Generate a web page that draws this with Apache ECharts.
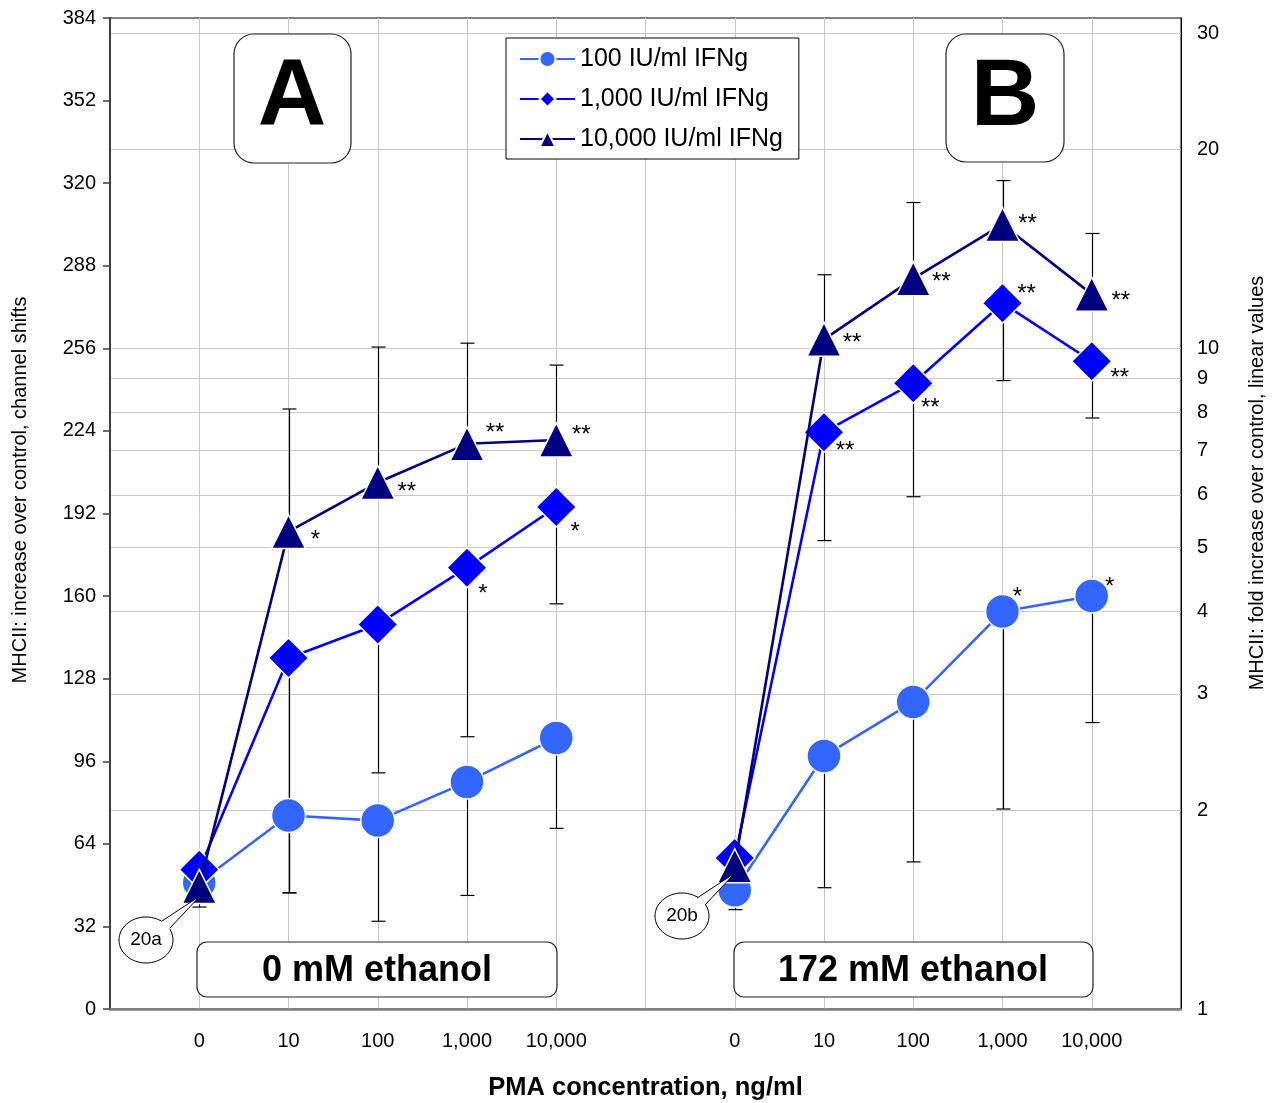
<!DOCTYPE html>
<html><head><meta charset="utf-8">
<script src="https://cdn.jsdelivr.net/npm/echarts@6/dist/echarts.min.js"></script>
<style>html,body{margin:0;padding:0;background:#fff}#c{width:1273px;height:1103px}</style>
</head><body><div id="c"></div>
<script>
// ---------- data ----------
const doseLabels = ['0', '10', '100', '1,000', '10,000'];
const xPanelA = [1, 2, 3, 4, 5];
const xPanelB = [7, 8, 9, 10, 11];
const seriesNames = ['100 IU/ml IFNg', '1,000 IU/ml IFNg', '10,000 IU/ml IFNg'];

const ifn100A = [49, 75, 73, 88, 105];
const ifn100B = [46, 98, 119, 154, 160];
const ifn1000A = [54, 136, 149, 171, 194.5];
const ifn1000B = [58.5, 223.5, 242.5, 273.5, 251];
const ifn10000A = [47.5, 185, 204, 219, 220.5];
const ifn10000B = [55.5, 259.5, 283, 304, 277];

// error bar end values (one-sided)
const err100A = [39.5, 45, 34, 44, 70];
const err100B = [38.5, 47, 57, 77.5, 111];
const err1000A = [null, 45, 91.5, 105.5, 157];
const err1000B = [null, 181.5, 198.5, 243.5, 229];
const err10000A = [null, 232.5, 256.5, 258, 249.5];
const err10000B = [null, 284.5, 312.5, 321, 300.5];

// significance marks
const sig100A = ['', '', '', '', ''];
const sig100B = ['', '', '', '*', '*'];
const sig1000A = ['', '', '', '*', '*'];
const sig1000B = ['', '**', '**', '**', '**'];
const sig10000A = ['', '*', '**', '**', '**'];
const sig10000B = ['', '**', '**', '**', '**'];

const leftAxisMax = 384, leftAxisStep = 32;
const rightTicks = [1, 2, 3, 4, 5, 6, 7, 8, 9, 10, 20, 30];
const rightAxisDecades = 1.5; // 384 channels = 1.5 decades

// ---------- styles ----------
const colors = ['#3366FF', '#0000FF', '#000080'];
const symbols = ['circle', 'diamond', 'triangle'];
const symbolSizes = [34, [40, 40], [34, 34]];
// star label offsets (px) relative to marker centre
const off100B = [null, null, null, [15, -20], [18, -15]];
const off1000A = [null, null, null, [16, 21], [19, 19]];
const off1000B = [null, [21, 13], [17, 19], [24, -15], [28, 11]];
const off10000A = [null, [27, 3], [29, 4], [28, -16], [25, -11]];
const off10000B = [null, [28, -2], [28, -2], [25, -6], [29, 1]];
const noOff = [null, null, null, null, null];

const FONT = '"Liberation Sans", Arial, sans-serif';

function lineSeries(idx, xs, ys, sig, offs) {
  return {
    type: 'line', name: seriesNames[idx], z: 3 + idx,
    symbol: symbols[idx], symbolSize: symbolSizes[idx],
    lineStyle: { color: colors[idx], width: 2.6 },
    itemStyle: { color: colors[idx], borderColor: '#fff', borderWidth: 1.5 },
    emphasis: { disabled: true },
    data: xs.map((x, i) => {
      const d = { value: [x, ys[i]] };
      if (sig[i]) {
        const o = offs[i] || [25, 0];
        d.label = { show: true, position: 'inside', formatter: sig[i], offset: [o[0], o[1] + 6],
          color: '#000', fontSize: 24, fontFamily: FONT, align: 'center', verticalAlign: 'middle' };
      }
      return d;
    })
  };
}

function errSeries(xs, ys, es) {
  const data = [];
  xs.forEach((x, i) => { if (es[i] != null) data.push([x, ys[i], es[i]]); });
  return {
    type: 'custom', z: 1, silent: true, encode: { x: 0, y: 1 },
    renderItem: function (params, api) {
      const p0 = api.coord([api.value(0), api.value(1)]);
      const p1 = api.coord([api.value(0), api.value(2)]);
      const x = Math.round(p0[0]) + 0.5, hw = 7;
      return { type: 'group', children: [
        { type: 'line', shape: { x1: x, y1: p0[1], x2: x, y2: p1[1] }, style: { stroke: '#000', lineWidth: 1.2 } },
        { type: 'line', shape: { x1: x - hw, y1: p1[1], x2: x + hw, y2: p1[1] }, style: { stroke: '#000', lineWidth: 1.2 } }
      ] };
    },
    data: data
  };
}

const xLabelPos = xPanelA.concat(xPanelB);
const xLabelText = doseLabels.concat(doseLabels);

function roundBox(x, y, w, h, r, text, fs, tx, ty) {
  return [
    { type: 'rect', z: 100, shape: { x: x, y: y, width: w, height: h, r: r }, style: { fill: '#fff', stroke: '#222', lineWidth: 1.2 } },
    { type: 'text', z: 101, x: tx, y: ty, style: { text: text, font: 'bold ' + fs + 'px ' + FONT, fill: '#000', align: 'center', verticalAlign: 'middle' } }
  ];
}
function callout(cx, cy, rx, ry, p1, p2, tip, text) {
  return [
    { type: 'ellipse', z: 100, shape: { cx: cx, cy: cy, rx: rx, ry: ry }, style: { fill: '#fff', stroke: '#000', lineWidth: 1 } },
    { type: 'polygon', z: 101, shape: { points: [[p1[0] - 2, p1[1] + 3], p1, tip, p2, [p2[0] - 2, p2[1] + 3]] }, style: { fill: '#fff' } },
    { type: 'polyline', z: 102, shape: { points: [p1, tip, p2] }, style: { stroke: '#000', lineWidth: 1, fill: null } },
    { type: 'text', z: 103, x: cx, y: cy, style: { text: text, font: '19px ' + FONT, fill: '#000', align: 'center', verticalAlign: 'middle' } }
  ];
}

const chart = echarts.init(document.getElementById('c'), null, { renderer: 'canvas' });
chart.setOption({
  animation: false,
  backgroundColor: '#fff',
  textStyle: { fontFamily: FONT },
  grid: { left: 110, right: 92, top: 18, bottom: 94, containLabel: false, outerBoundsMode: 'none',
    show: true, borderColor: '#000', borderWidth: 1, backgroundColor: 'transparent' },
  legend: {
    data: seriesNames, orient: 'vertical', left: 506, top: 38, selectedMode: false,
    backgroundColor: '#fff', borderColor: '#000', borderWidth: 1, padding: [7, 16, 6, 13],
    itemWidth: 55, itemHeight: 20, itemGap: 12,
    textStyle: { fontSize: 25, color: '#000', fontFamily: FONT, lineHeight: 28 }
  },
  xAxis: {
    type: 'value', min: 0, max: 12, interval: 1,
    axisLine: { show: true, onZero: false, lineStyle: { color: '#808080', width: 2.5 } },
    axisTick: { show: false },
    splitLine: { show: true, lineStyle: { color: '#c8c8c8', width: 1 } },
    axisLabel: { customValues: xLabelPos, formatter: v => xLabelText[xLabelPos.indexOf(v)] || '', fontSize: 20, color: '#000', margin: 22, fontFamily: FONT },
    name: 'PMA concentration, ng/ml', nameLocation: 'middle', nameGap: 66,
    nameTextStyle: { fontSize: 25.5, fontWeight: 'bold', color: '#000', fontFamily: FONT }
  },
  yAxis: [
    {
      type: 'value', min: 0, max: leftAxisMax, interval: leftAxisStep, position: 'left',
      axisLine: { show: true, lineStyle: { color: '#404040', width: 2 } },
      axisTick: { show: true, inside: false, length: 7, lineStyle: { color: '#404040', width: 1.5 } },
      splitLine: { show: false },
      axisLabel: { fontSize: 20, color: '#000', margin: 14, fontFamily: FONT }
    },
    {
      type: 'value', min: 0, max: rightAxisDecades, position: 'right',
      axisLine: { show: true, lineStyle: { color: '#000', width: 1 } },
      axisTick: { show: false, customValues: rightTicks.map(v => Math.log10(v)) },
      axisLabel: { customValues: rightTicks.map(v => Math.log10(v)), formatter: v => String(Math.round(Math.pow(10, v))), fontSize: 20, color: '#000', margin: 16, fontFamily: FONT },
      splitLine: { show: true, lineStyle: { color: '#c8c8c8', width: 1.2 } }
    }
  ],
  series: [
    errSeries(xPanelA, ifn100A, err100A), errSeries(xPanelB, ifn100B, err100B),
    errSeries(xPanelA, ifn1000A, err1000A), errSeries(xPanelB, ifn1000B, err1000B),
    errSeries(xPanelA, ifn10000A, err10000A), errSeries(xPanelB, ifn10000B, err10000B),
    lineSeries(0, xPanelA, ifn100A, sig100A, noOff), lineSeries(0, xPanelB, ifn100B, sig100B, off100B),
    lineSeries(1, xPanelA, ifn1000A, sig1000A, off1000A), lineSeries(1, xPanelB, ifn1000B, sig1000B, off1000B),
    lineSeries(2, xPanelA, ifn10000A, sig10000A, off10000A), lineSeries(2, xPanelB, ifn10000B, sig10000B, off10000B)
  ],
  graphic: [].concat(
    roundBox(234, 34, 117, 129, 20, 'A', 95, 292, 99),
    roundBox(946, 34, 118, 128, 20, 'B', 95, 1005, 99),
    roundBox(197, 942, 360, 55, 10, '0 mM ethanol', 36, 377, 971),
    roundBox(734, 942, 359, 55, 10, '172 mM ethanol', 36, 913, 971),
    callout(146, 940, 27, 23, [162, 921], [170, 928], [200, 896], '20a'),
    callout(682, 916, 27, 23, [697, 898], [705, 905], [735, 873], '20b'),
    [
      { type: 'text', z: 100, x: 20, y: 490, rotation: Math.PI / 2, style: { text: 'MHCII: increase over control, channel shifts', font: '20px ' + FONT, fill: '#000', align: 'center', verticalAlign: 'middle' } },
      { type: 'text', z: 100, x: 1257, y: 483, rotation: Math.PI / 2, style: { text: 'MHCII: fold increase over control, linear values', font: '20px ' + FONT, fill: '#000', align: 'center', verticalAlign: 'middle' } }
    ]
  )
});
</script>
</body></html>
